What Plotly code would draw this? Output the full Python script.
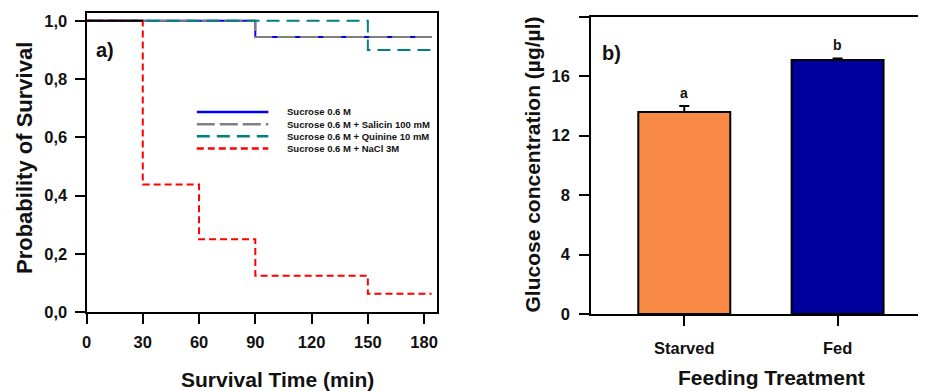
import plotly.graph_objects as go

# ---------------- Data: panel a) survival curves ----------------
time_ticks = [0, 30, 60, 90, 120, 150, 180]
time_tick_labels = ["0", "30", "60", "90", "120", "150", "180"]
surv_ticks = [0.0, 0.2, 0.4, 0.6, 0.8, 1.0]
surv_tick_labels = ["0,0", "0,2", "0,4", "0,6", "0,8", "1,0"]

series_names = ["Sucrose 0.6 M", "Sucrose 0.6 M + Salicin 100 mM",
                "Sucrose 0.6 M + Quinine 10 mM", "Sucrose 0.6 M + NaCl 3M"]
sucrose_time = [0, 90, 184]
sucrose_surv = [1.0, 0.944, 0.944]
salicin_time = [0, 90, 184]
salicin_surv = [1.0, 0.944, 0.944]
quinine_time = [0, 150, 184]
quinine_surv = [1.0, 0.90, 0.90]
nacl_time = [0, 30, 60, 90, 150, 184]
nacl_surv = [1.0, 0.4375, 0.25, 0.125, 0.0625, 0.0625]

# ---------------- Data: panel b) glucose ----------------
treatments = ["Starved", "Fed"]
glucose_mean = [13.6, 17.1]
glucose_sem = [0.4, 0.1]
sig_letters = ["a", "b"]
glucose_ticks = [0, 4, 8, 12, 16, 20]
glucose_tick_labels = ["0", "4", "8", "12", "16", "20"]

# ---------------- Styles ----------------
W, H = 926, 391
FONT = "Liberation Sans, Arial, sans-serif"
series_colors = ["#0000FF", "#808080", "#008080", "#FF0000"]
series_dash = ["solid", "18px,5px", "13px,7px", "7px,4px"]
bar_colors = ["#F98A46", "#00009C"]


def px_x(x):
    return x / W


def px_y(y):
    return 1 - y / H


fig = go.Figure()

series = [(sucrose_time, sucrose_surv), (salicin_time, salicin_surv),
          (quinine_time, quinine_surv), (nacl_time, nacl_surv)]
for (t, s), name, col, dash in zip(series, series_names, series_colors, series_dash):
    fig.add_trace(go.Scatter(x=t, y=s, mode="lines", line_shape="hv", name=name,
                             line=dict(color=col, width=2, dash=dash),
                             xaxis="x", yaxis="y", showlegend=False))

# common start where every group is still at survival 1 (drawn black, as in original)
first_drop = min(t[next(i for i, v in enumerate(s) if v < 1)] for t, s in series)
fig.add_trace(go.Scatter(x=[0, first_drop], y=[1.0, 1.0], mode="lines",
                         line=dict(color="black", width=2), xaxis="x", yaxis="y",
                         showlegend=False, hoverinfo="skip"))

fig.add_trace(go.Bar(x=treatments, y=glucose_mean, width=[0.6] * len(treatments),
                     marker=dict(color=bar_colors, line=dict(color="black", width=2)),
                     error_y=dict(type="data", array=glucose_sem,
                                  arrayminus=[0] * len(glucose_sem), symmetric=False,
                                  color="black", thickness=2, width=5),
                     xaxis="x2", yaxis="y2", showlegend=False))

axis_common = dict(showline=True, linecolor="black", linewidth=2, ticks="outside",
                   ticklen=10, tickwidth=2, tickcolor="black", showgrid=False,
                   zeroline=False, mirror=True,
                   tickfont=dict(family=FONT, size=16.5, color="#111", weight="bold"))

fig.update_layout(
    width=W, height=H, margin=dict(l=0, r=0, t=0, b=0),
    paper_bgcolor="white", plot_bgcolor="white", showlegend=False,
    xaxis=dict(domain=[px_x(74), px_x(427)], range=[0, 187], tickvals=time_ticks,
               ticktext=time_tick_labels, anchor="y", ticklabelstandoff=4, **axis_common),
    yaxis=dict(domain=[px_y(311), px_y(4)], range=[0, 1.027], tickvals=surv_ticks,
               ticktext=surv_tick_labels, anchor="x", ticklabelstandoff=4, **axis_common),
    xaxis2=dict(domain=[px_x(582), px_x(923)], range=[-0.607, 1.603], anchor="y2",
                type="category", ticklabelstandoff=8, **axis_common),
    yaxis2=dict(domain=[px_y(313), px_y(8)], range=[0, 20], tickvals=glucose_ticks,
                ticktext=glucose_tick_labels, anchor="x2", ticklabelstandoff=6, **axis_common),
)

ann = []
title_font = dict(family=FONT, size=21, color="#111", weight="bold")


def paper_text(text, x, y, font, angle=0, xanchor="center"):
    return dict(text=text, x=px_x(x), y=px_y(y), xref="paper", yref="paper",
                xanchor=xanchor, yanchor="middle", textangle=angle,
                showarrow=False, font=font)


ann.append(paper_text("Probability of Survival", 11, 153,
                      dict(title_font, size=22), angle=-90))
ann.append(paper_text("Survival Time (min)", 266, 380, title_font))
ann.append(paper_text("Glucose concentration (µg/µl)", 523, 160, title_font, angle=-90))
ann.append(paper_text("Feeding Treatment", 763, 378, title_font))
panel_font = dict(family=FONT, size=20, color="#111", weight="bold")
ann.append(paper_text("a)", 82, 42, panel_font, xanchor="left"))
ann.append(paper_text("b)", 591, 45, panel_font, xanchor="left"))

# significance letters above error bars
for cat, m, e, letter in zip(treatments, glucose_mean, glucose_sem, sig_letters):
    ann.append(dict(text=letter, x=cat, y=m + e, xref="x2", yref="y2",
                    xanchor="center", yanchor="bottom",
                    yshift=3, showarrow=False,
                    font=dict(family=FONT, size=14, color="#111", weight="bold")))

# manual legend (long line samples as in original)
shapes = []
leg_y0, leg_dy = 105.7, 12.5
for i, (name, col, dash) in enumerate(zip(series_names, series_colors, series_dash)):
    yy = leg_y0 + i * leg_dy
    shapes.append(dict(type="line", xref="paper", yref="paper", x0=px_x(185), x1=px_x(257),
                       y0=px_y(yy), y1=px_y(yy), line=dict(color=col, width=2.5, dash=dash)))
    ann.append(paper_text(name, 274, yy,
                          dict(family=FONT, size=9.5, color="#111", weight="bold"),
                          xanchor="left"))

fig.update_layout(annotations=ann, shapes=shapes)
fig.write_html("out.html")
